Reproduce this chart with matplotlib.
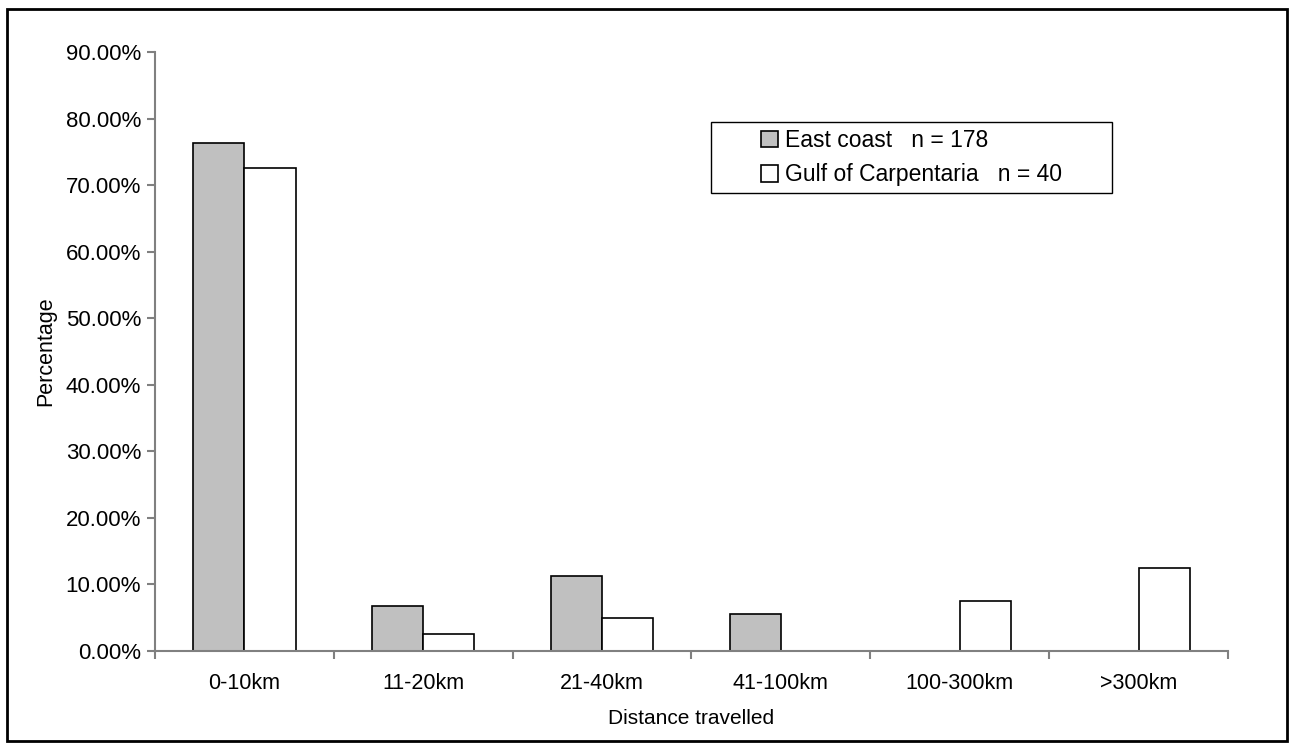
import numpy as np
import matplotlib.pyplot as plt
from matplotlib.patches import Rectangle
from matplotlib.ticker import FuncFormatter

# categorie e percentuali
categorie = ['0-10km', '11-20km', '21-40km', '41-100km', '100-300km', '>300km']
east_coast = [76.40, 6.74, 11.24, 5.62, 0.0, 0.0]
gulf = [72.5, 2.5, 5.0, 0.0, 7.5, 12.5]
etichette = ['East coast   n = 178', 'Gulf of Carpentaria   n = 40']

plt.rcParams['font.family'] = ['Liberation Sans', 'DejaVu Sans']
plt.rcParams['font.size'] = 15.5

fig = plt.figure(figsize=(12.94, 7.49), dpi=100)
ax = fig.add_axes([155/1294, 1-651/749, (1228-155)/1294, (651-52)/749])

x = np.arange(len(categorie))
w = 1/3.5
ax.bar(x - w/2, east_coast, w, color='#c0c0c0', edgecolor='black', linewidth=1.2, label=etichette[0])
ax.bar(x + w/2, gulf, w, color='white', edgecolor='black', linewidth=1.2, label=etichette[1])

ax.set_xlim(-0.5, len(categorie) - 0.5)
ax.set_ylim(0, 90)
ax.set_yticks(np.arange(0, 91, 10))
ax.yaxis.set_major_formatter(FuncFormatter(lambda v, p: '{:.2f}%'.format(v)))

# tick sull'asse x ai confini delle categorie, etichette al centro
ax.set_xticks(np.arange(-0.5, len(categorie)))
ax.set_xticklabels([])
ax.set_xticks(x, minor=True)
ax.set_xticklabels(categorie, minor=True)
ax.tick_params(axis='x', which='minor', length=0, pad=16)
ax.tick_params(axis='x', which='major', length=6, color='#808080', width=1.5)
ax.tick_params(axis='y', length=6, color='#808080', width=1.5, pad=4, labelsize=16)

for s in ['top', 'right']:
    ax.spines[s].set_visible(False)
for s in ['left', 'bottom']:
    ax.spines[s].set_color('#808080')
    ax.spines[s].set_linewidth(1.5)

ax.set_xlabel('Distance travelled', fontsize=15, labelpad=11)
ax.set_ylabel('Percentage', fontsize=15.5, labelpad=7)

# legenda senza cornice, la cornice la disegno a parte
leg = ax.legend(loc='upper left', bbox_to_anchor=((761-155)/1073, (651-129)/599),
                frameon=False, fontsize=16.5,
                handlelength=0.75, handleheight=0.75, handletextpad=0.3,
                borderpad=0, labelspacing=0.5, borderaxespad=0)
fig.patches.append(Rectangle((711/1294, 1-193/749), 401/1294, 71/749, transform=fig.transFigure,
                             fill=False, edgecolor='black', linewidth=1))

# cornice esterna
fig.patches.append(Rectangle((7/1294, 1-741/749), 1280/1294, 732/749, transform=fig.transFigure,
                             fill=False, edgecolor='black', linewidth=2))

fig.savefig('out.png', dpi=100)
